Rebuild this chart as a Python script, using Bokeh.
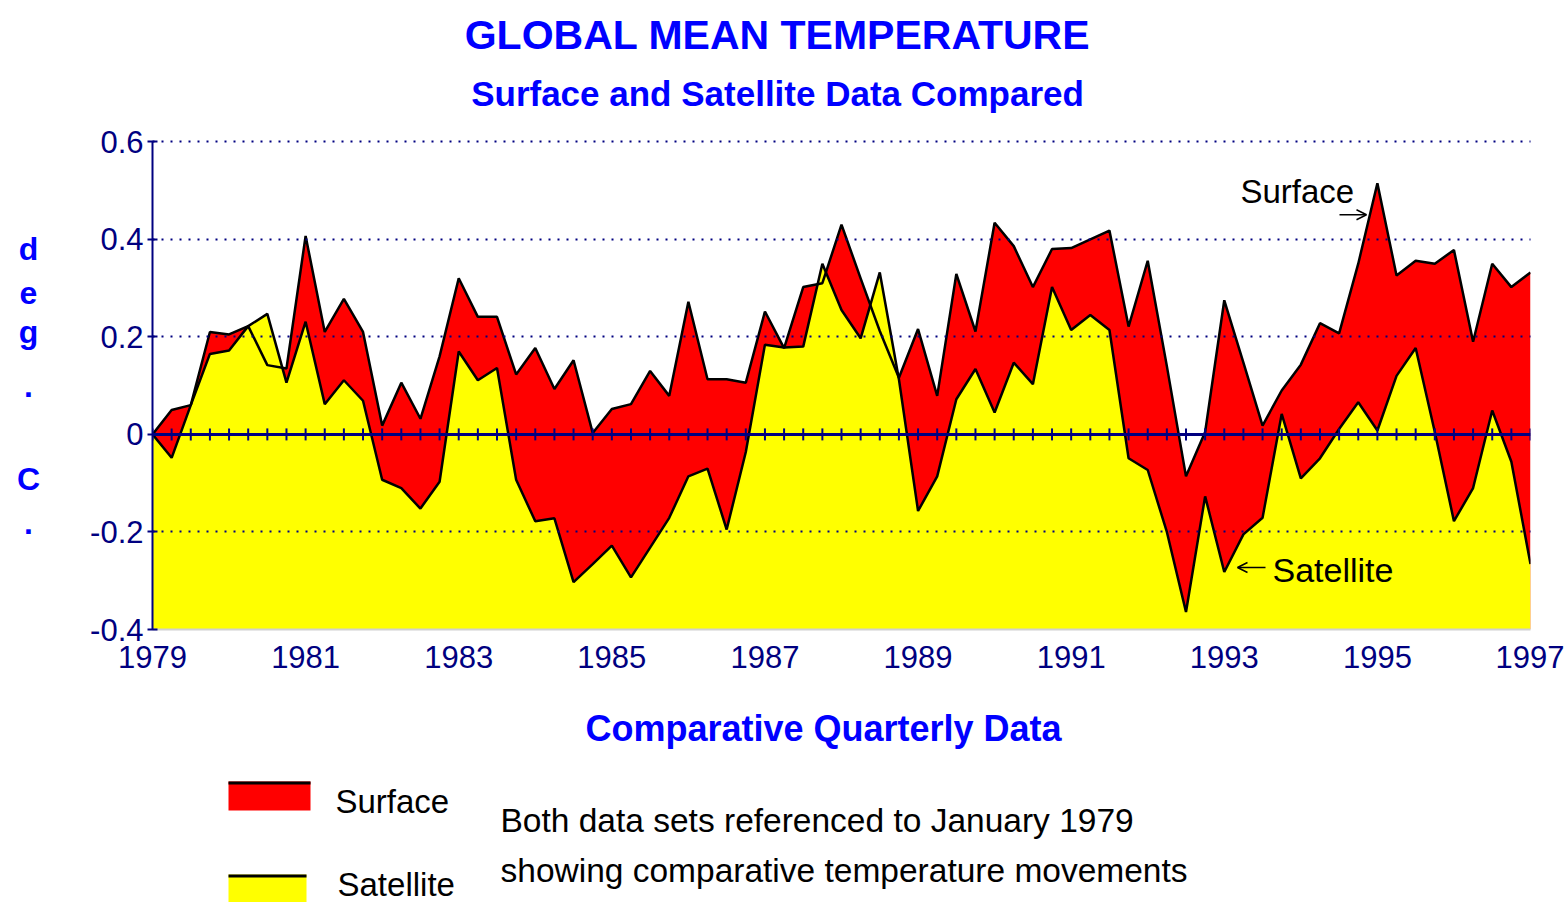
from bokeh.plotting import figure
from bokeh.models import (Range1d, FixedTicker, NumeralTickFormatter, Span, Label,
                          Arrow, OpenHead)
from bokeh.layouts import column, row
from bokeh.embed import file_html
from bokeh.resources import INLINE

# ---------------- data (quarterly, referenced to January 1979) ----------------
quarters = [1979 + q / 4 for q in range(73)]

surface = [
    0.000, 0.050, 0.060, 0.210, 0.205, 0.222, 0.142, 0.135, 0.407, 0.210,
    0.278, 0.210, 0.018, 0.106, 0.032, 0.160, 0.320, 0.241, 0.241, 0.123,
    0.177, 0.093, 0.152, 0.003, 0.052, 0.062, 0.130, 0.079, 0.272, 0.113,
    0.113, 0.106, 0.252, 0.177, 0.302, 0.310, 0.430, 0.320, 0.212, 0.116,
    0.216, 0.079, 0.329, 0.211, 0.434, 0.386, 0.302, 0.380, 0.382, 0.400,
    0.418, 0.221, 0.356, 0.140, -0.086, 0.005, 0.275, 0.147, 0.018, 0.090,
    0.143, 0.228, 0.207, 0.350, 0.515, 0.326, 0.356, 0.350, 0.378, 0.190,
    0.350, 0.302, 0.332,
]

satellite = [
    0.000, -0.048, 0.060, 0.165, 0.172, 0.222, 0.247, 0.106, 0.231, 0.062,
    0.111, 0.069, -0.093, -0.110, -0.152, -0.097, 0.170, 0.111, 0.136, -0.093,
    -0.178, -0.172, -0.303, -0.266, -0.228, -0.293, -0.232, -0.171, -0.086, -0.070,
    -0.195, -0.036, 0.184, 0.178, 0.180, 0.350, 0.255, 0.197, 0.332, 0.113,
    -0.157, -0.086, 0.072, 0.134, 0.045, 0.147, 0.103, 0.302, 0.214, 0.245,
    0.214, -0.049, -0.073, -0.200, -0.364, -0.127, -0.282, -0.205, -0.171, 0.042,
    -0.090, -0.049, 0.011, 0.066, 0.008, 0.120, 0.177, 0.005, -0.178, -0.110,
    0.049, -0.056, -0.266,
]

year_ticks = [1979, 1981, 1983, 1985, 1987, 1989, 1991, 1993, 1995, 1997]
temp_ticks = [-0.4, -0.2, 0, 0.2, 0.4, 0.6]
grid_ticks = [-0.2, 0.2, 0.4, 0.6]

title_text = "GLOBAL MEAN TEMPERATURE"
subtitle_text = "Surface and Satellite Data Compared"
xlabel_text = "Comparative Quarterly Data"
ylabel_letters = ["d", "e", "g", ".", "C", "."]
note_lines = ["Both data sets referenced to January 1979",
              "showing comparative temperature movements"]

# ---------------- style / layout ----------------
FONT = "Liberation Sans"
NAVY = "#000080"
BLUE = "#0000FF"
RED = "#FF0000"
YELLOW = "#FFFF00"
BASE_SHIFT = 0.39     # measured: rendered baseline sits this many em below the anchor

PAGE_W = 1564
HEAD_H = 120          # page rows 0..120
MAIN_H = 575          # page rows 120..695
FOOT_H = 207          # page rows 695..902
STRIP_W = 60          # left strip for the stacked unit label
MAIN_W = PAGE_W - STRIP_W

FRAME_L, FRAME_R, FRAME_T, FRAME_B = 152, 1530, 141, 629   # page pixels
X0, X1 = 1979, 1997
Y0, Y1 = -0.4, 0.6


def dx(X):
    return X0 + (X - FRAME_L) * (X1 - X0) / (FRAME_R - FRAME_L)


def dy(Y):
    return Y1 - (Y - FRAME_T) * (Y1 - Y0) / (FRAME_B - FRAME_T)


def blank(width, height, x0, x1, ytop, ybot, **kw):
    f = figure(width=width, height=height, x_range=Range1d(x0, x1),
               y_range=Range1d(ybot, ytop), output_backend="svg",
               toolbar_location=None, x_axis_type=None, y_axis_type=None, **kw)
    f.outline_line_color = None
    f.xgrid.visible = False
    f.ygrid.visible = False
    f.background_fill_color = "white"
    f.border_fill_color = "white"
    return f


def lab(fig, x, base, text, size, color="black", bold=False, align="left", data=False):
    """Place text so that its baseline lands on page row `base`."""
    yb = base - BASE_SHIFT * size
    fig.add_layout(Label(x=dx(x) if data else x, y=dy(yb) if data else yb,
                         text=text, text_align=align,
                         text_baseline="alphabetic", text_font=FONT,
                         text_font_size=f"{size}px", text_color=color,
                         text_font_style="bold" if bold else "normal"))


# ---------------- header ----------------
head = blank(PAGE_W, HEAD_H, 0, PAGE_W, 0, HEAD_H, min_border=0)
lab(head, 777, 50, title_text, 41, BLUE, True, "center")
lab(head, 777, 107, subtitle_text, 35, BLUE, True, "center")

# ---------------- left strip (stacked unit label) ----------------
# its frame is aligned with the main chart's frame (page rows FRAME_T..FRAME_B)
strip = blank(STRIP_W, MAIN_H, 0, STRIP_W, FRAME_T, FRAME_B,
              min_border_left=0, min_border_right=0,
              min_border_top=FRAME_T - HEAD_H, min_border_bottom=HEAD_H + MAIN_H - FRAME_B)
for letter, base in zip(ylabel_letters, [261, 305, 344, 398, 491, 535]):
    lab(strip, 28, base, letter, 32, BLUE, True, "center")

# ---------------- main chart ----------------
p = figure(width=MAIN_W, height=MAIN_H, x_range=Range1d(X0, X1),
           y_range=Range1d(Y0, Y1 + 0.0005),
           output_backend="svg", toolbar_location=None,
           min_border_left=FRAME_L - STRIP_W, min_border_right=PAGE_W - FRAME_R,
           min_border_top=FRAME_T - HEAD_H, min_border_bottom=HEAD_H + MAIN_H - FRAME_B)
p.outline_line_color = None
p.background_fill_color = "white"
p.border_fill_color = "white"

p.varea(x=quarters, y1=Y0, y2=surface, fill_color=RED)
p.varea(x=quarters, y1=Y0, y2=satellite, fill_color=YELLOW)
p.line(quarters, surface, line_color="black", line_width=2.5)
p.line(quarters, satellite, line_color="black", line_width=2.5)

p.add_layout(Span(location=0, dimension="width", line_color=NAVY, line_width=3))
tick_half = 6 * (Y1 - Y0) / (FRAME_B - FRAME_T)
p.segment(x0=quarters, y0=[-tick_half] * len(quarters),
          x1=quarters, y1=[tick_half] * len(quarters),
          line_color=NAVY, line_width=2)

p.xgrid.visible = False
p.ygrid.ticker = FixedTicker(ticks=grid_ticks)
p.ygrid.grid_line_color = NAVY
p.ygrid.grid_line_dash = "2 7"
p.ygrid.grid_line_width = 2
p.ygrid.level = "guide"

ya = p.yaxis[0]
ya.ticker = FixedTicker(ticks=temp_ticks)
ya.formatter = NumeralTickFormatter(format="0.[0]")
ya.axis_line_color = NAVY
ya.axis_line_width = 2
ya.major_tick_line_color = NAVY
ya.major_tick_line_width = 2
ya.major_tick_in = 5
ya.major_tick_out = 5
ya.minor_tick_line_color = None
ya.major_label_text_font = FONT
ya.major_label_text_font_size = "31px"
ya.major_label_text_color = NAVY
ya.major_label_standoff = 4

xa = p.xaxis[0]
xa.ticker = FixedTicker(ticks=year_ticks)
xa.formatter = NumeralTickFormatter(format="0")
xa.axis_line_color = "#d0d0d0"
xa.axis_line_width = 2
xa.major_tick_line_color = None
xa.minor_tick_line_color = None
xa.major_label_text_font = FONT
xa.major_label_text_font_size = "31px"
xa.major_label_text_color = NAVY
xa.major_label_standoff = 10

lab(p, 1240, 204, "Surface", 33, data=True)
p.add_layout(Arrow(end=OpenHead(size=10, line_color="black", line_width=1.5),
                   x_start=dx(1339), y_start=dy(214), x_end=dx(1366), y_end=dy(214),
                   line_color="black", line_width=1.5))
lab(p, 1272, 583, "Satellite", 34, data=True)
p.add_layout(Arrow(end=OpenHead(size=10, line_color="black", line_width=1.5),
                   x_start=dx(1265), y_start=dy(567), x_end=dx(1237), y_end=dy(567),
                   line_color="black", line_width=1.5))

# ---------------- footer: axis title, legend and note ----------------
top = HEAD_H + MAIN_H
foot = blank(PAGE_W, FOOT_H, 0, PAGE_W, top, top + FOOT_H, min_border=0)
lab(foot, 823, 742, xlabel_text, 36, BLUE, True, "center")

foot.quad(left=[228], right=[310], top=[781], bottom=[810], fill_color=RED, line_color=None)
foot.segment(x0=[228], y0=[782.5], x1=[310], y1=[782.5], line_color="black", line_width=3)
foot.quad(left=[228], right=[306], top=[874], bottom=[902], fill_color=YELLOW, line_color=None)
foot.segment(x0=[228], y0=[875.5], x1=[306], y1=[875.5], line_color="black", line_width=3)

lab(foot, 335, 814, "Surface", 33)
lab(foot, 337, 897, "Satellite", 33)
lab(foot, 500, 833, note_lines[0], 33.5)
lab(foot, 500, 883, note_lines[1], 33.5)

layout = column(head, row(strip, p, spacing=0), foot, spacing=0)
open("out.html", "w").write(file_html(layout, INLINE))
